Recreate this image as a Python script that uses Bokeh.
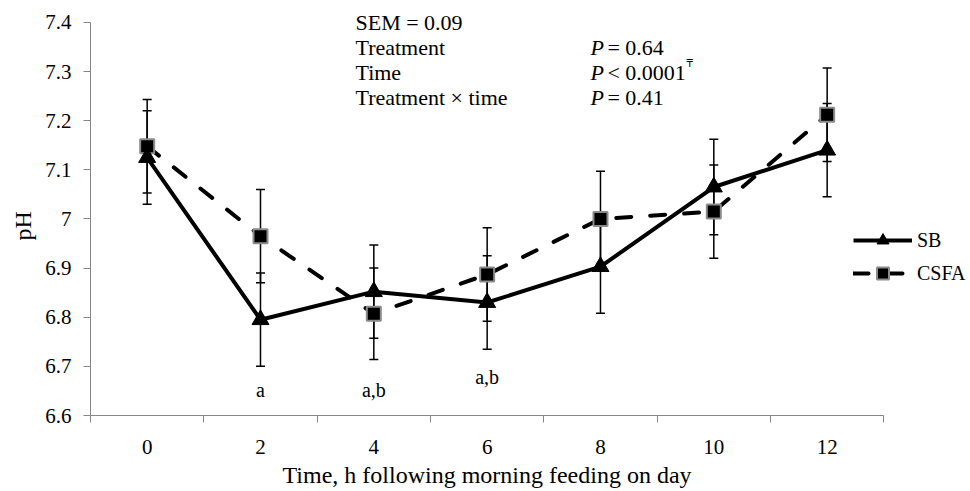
from bokeh.plotting import figure
from bokeh.models import Label, FixedTicker, Range1d, Legend, LegendItem, ColumnDataSource, Title
from bokeh.embed import file_html
from bokeh.resources import INLINE

# ---- data ----
hours = [0, 2, 4, 6, 8, 10, 12]
sb_ph = [7.125, 6.795, 6.852, 6.830, 6.903, 7.065, 7.140]
sb_err = [0.095, 0.095, 0.095, 0.095, 0.095, 0.097, 0.095]
csfa_ph = [7.148, 6.965, 6.807, 6.887, 7.000, 7.015, 7.212]
csfa_err = [0.095, 0.095, 0.093, 0.095, 0.097, 0.095, 0.095]
y_ticks = [6.6, 6.7, 6.8, 6.9, 7.0, 7.1, 7.2, 7.3, 7.4]
y_tick_labels = ["6.6", "6.7", "6.8", "6.9", "7", "7.1", "7.2", "7.3", "7.4"]
x_tick_labels = ["0", "2", "4", "6", "8", "10", "12"]
sig_hours = [2, 4, 6]
sig_letters = ["a", "a,b", "a,b"]
sig_y = [6.651, 6.651, 6.679]

FONT = "Liberation Serif"
AX = "#868686"

sb_src = ColumnDataSource(dict(x=hours, y=sb_ph,
                               up=[v + e for v, e in zip(sb_ph, sb_err)],
                               lo=[v - e for v, e in zip(sb_ph, sb_err)]))
cs_src = ColumnDataSource(dict(x=hours, y=csfa_ph,
                               up=[v + e for v, e in zip(csfa_ph, csfa_err)],
                               lo=[v - e for v, e in zip(csfa_ph, csfa_err)]))

p = figure(width=970, height=491, output_backend="svg", toolbar_location=None,
           x_range=Range1d(-1, 14.53), y_range=Range1d(6.6, 7.4446),
           min_border_left=90, min_border_right=0, min_border_top=0, min_border_bottom=74)
p.outline_line_color = None
p.xgrid.visible = False
p.ygrid.visible = False
p.background_fill_color = "white"

# lines
sb_line = p.line("x", "y", source=sb_src, line_color="black", line_width=4)
cs_line = p.line("x", "y", source=cs_src, line_color="black", line_width=4,
                 line_dash="15 19", line_cap="round")

# error bars
for src in (sb_src, cs_src):
    p.segment(x0="x", y0="lo", x1="x", y1="up", source=src, line_color="black", line_width=1.5)
    p.scatter("x", "up", source=src, marker="dash", size=9, line_color="black", line_width=1.5)
    p.scatter("x", "lo", source=src, marker="dash", size=9, line_color="black", line_width=1.5)

# markers
cs_mark = p.scatter("x", "y", source=cs_src, marker="square", size=14, fill_color="black",
                    line_color="#8c8c8c", line_width=2)
sb_mark = p.scatter("x", "y", source=sb_src, marker="triangle", size=17, fill_color="black",
                    line_color="black", line_width=1)

# axes
xa = p.xaxis[0]
xa.bounds = (-1, 13)
xa.ticker = FixedTicker(ticks=hours, minor_ticks=[-1, 1, 3, 5, 7, 9, 11, 13])
xa.major_label_overrides = {h: l for h, l in zip(hours, x_tick_labels)}
xa.major_tick_out = 0
xa.major_tick_in = 0
xa.minor_tick_out = 7
xa.minor_tick_in = 0
xa.minor_tick_line_color = AX
xa.axis_line_color = AX
xa.major_label_standoff = 17
xa.major_label_text_font = FONT
xa.major_label_text_font_size = "21px"
xa.major_label_text_color = "black"

ya = p.yaxis[0]
ya.bounds = (6.6, 7.4)
ya.ticker = FixedTicker(ticks=y_ticks, minor_ticks=[])
ya.major_label_overrides = {t: l for t, l in zip(y_ticks, y_tick_labels)}
ya.major_tick_out = 7
ya.major_tick_in = 0
ya.major_tick_line_color = AX
ya.axis_line_color = AX
ya.major_label_standoff = 12
ya.major_label_text_font = FONT
ya.major_label_text_font_size = "21px"
ya.major_label_text_color = "black"

p.add_layout(Title(text="Time, h following morning feeding on day", align="left", offset=192,
                   text_font=FONT, text_font_size="24px", text_font_style="normal",
                   text_color="black", standoff=7), "below")
p.add_layout(Title(text="pH", align="left", offset=175,
                   text_font=FONT, text_font_size="24px", text_font_style="normal",
                   text_color="black", standoff=14), "left")

# significance letters
for h, t, yy in zip(sig_hours, sig_letters, sig_y):
    p.add_layout(Label(x=h, y=yy, text=t, text_align="center", text_baseline="middle",
                       text_font=FONT, text_font_size="20px", text_color="black"))

# statistics text block
LX = 3.676
PX = 7.823
rows = [(7.400, "SEM = 0.09"), (7.3494, "Treatment"), (7.2987, "Time"), (7.2481, "Treatment \u00d7 time")]
for yy, t in rows:
    p.add_layout(Label(x=LX, y=yy, text=t, text_align="left", text_baseline="middle",
                       text_font=FONT, text_font_size="22px", text_color="black"))
prows = [(7.3494, "= 0.64"), (7.2987, "< 0.0001"), (7.2481, "= 0.41")]
for yy, t in prows:
    p.add_layout(Label(x=PX, y=yy, text="P", text_align="left", text_baseline="middle",
                       text_font=FONT, text_font_size="22px", text_font_style="italic",
                       text_color="black"))
    p.add_layout(Label(x=PX, y=yy, x_offset=17, text=t, text_align="left", text_baseline="middle",
                       text_font=FONT, text_font_size="22px", text_color="black"))
p.add_layout(Label(x=PX, y=7.2987, x_offset=96, y_offset=9, text="\u20b8", text_align="left",
                   text_baseline="middle", text_font="DejaVu Sans", text_font_size="10px",
                   text_color="black"))

legend = Legend(items=[LegendItem(label="SB", renderers=[sb_line, sb_mark]),
                       LegendItem(label="CSFA", renderers=[cs_line, cs_mark])],
                location=(763, 127), orientation="vertical",
                border_line_color=None, background_fill_alpha=0,
                padding=0, margin=0, glyph_width=59, glyph_height=30, spacing=3,
                label_standoff=5, label_text_font=FONT, label_text_font_size="20px",
                label_text_color="black")
p.add_layout(legend)

open("out.html", "w").write(file_html(p, INLINE))
